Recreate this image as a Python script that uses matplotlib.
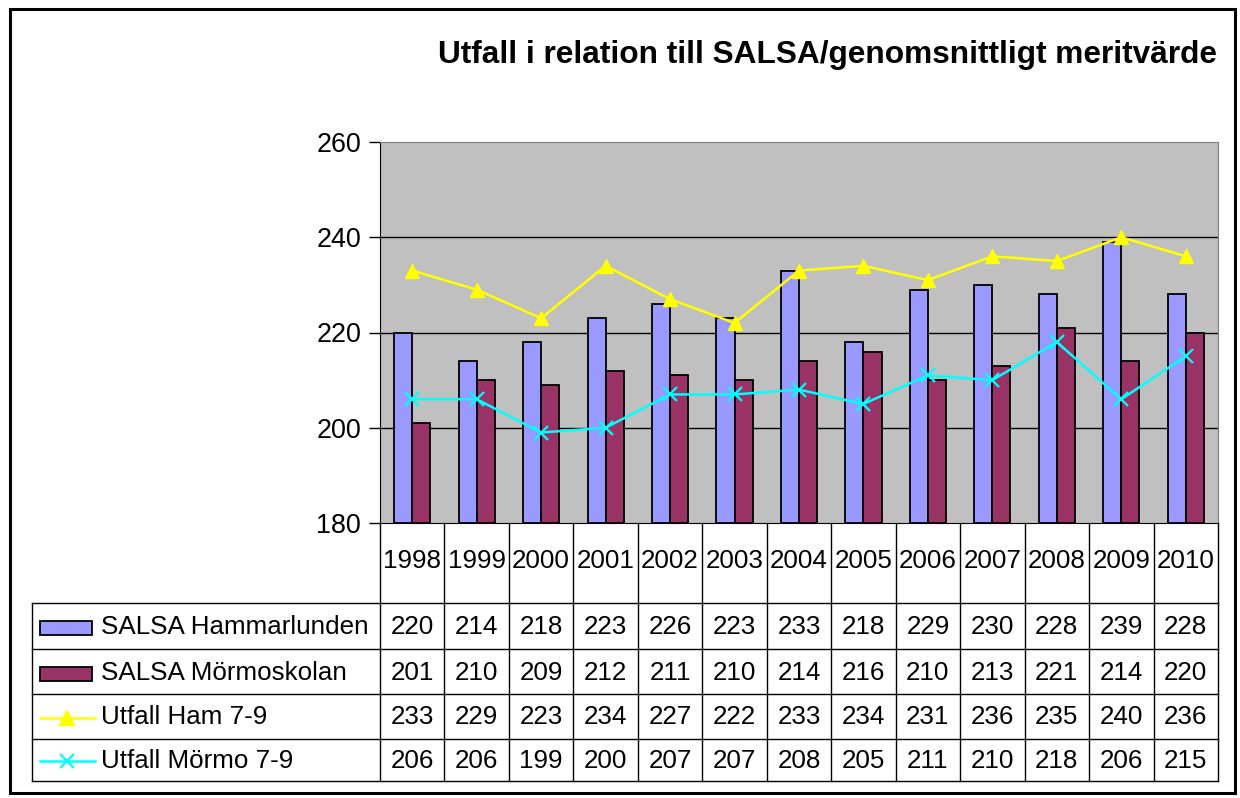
import numpy as np
import matplotlib
matplotlib.use("Agg")
import matplotlib.pyplot as plt
from matplotlib.lines import Line2D
from matplotlib.patches import Rectangle
from matplotlib.transforms import blended_transform_factory

plt.rcParams['font.family'] = ['Liberation Sans', 'DejaVu Sans']

years = ['1998', '1999', '2000', '2001', '2002', '2003', '2004',
         '2005', '2006', '2007', '2008', '2009', '2010']
salsa_ham = [220, 214, 218, 223, 226, 223, 233, 218, 229, 230, 228, 239, 228]
salsa_mor = [201, 210, 209, 212, 211, 210, 214, 216, 210, 213, 221, 214, 220]
utfall_ham = [233, 229, 223, 234, 227, 222, 233, 234, 231, 236, 235, 240, 236]
utfall_mor = [206, 206, 199, 200, 207, 207, 208, 205, 211, 210, 218, 206, 215]

series_names = ['SALSA Hammarlunden', 'SALSA Mörmoskolan', 'Utfall Ham 7-9', 'Utfall Mörmo 7-9']

W, H = 1240, 798
fig = plt.figure(figsize=(W / 100, H / 100), dpi=100)


def fx(x):
    return x / W


def fy(y):
    return 1 - y / H


# plot area in pixels
L, R, T, B = 380, 1218, 142, 523
ax = fig.add_axes([fx(L), fy(B), fx(R - L), (B - T) / H])
ax.set_facecolor('#C0C0C0')

x = np.arange(len(years))
bw = 0.28
ax.bar(x - bw / 2, np.array(salsa_ham) - 180, bw, bottom=180, color='#9999FF',
       edgecolor='black', linewidth=1.3, zorder=3)
ax.bar(x + bw / 2, np.array(salsa_mor) - 180, bw, bottom=180, color='#993366',
       edgecolor='black', linewidth=1.3, zorder=3)
ax.plot(x, utfall_ham, color='#FFFF00', lw=1.8, marker='^', ms=10, zorder=4)
ax.plot(x, utfall_mor, color='#00FFFF', lw=1.8, marker='x', ms=10, mew=1.6, zorder=4)

ax.set_xlim(-0.5, len(years) - 0.5)
ax.set_ylim(180, 260)
ax.set_yticks([180, 200, 220, 240, 260])
ax.tick_params(axis='y', direction='out', length=8, width=1, pad=5.5, labelsize=19.4)
ax.set_xticks([])
for yv in [200, 220, 240]:
    ax.axhline(yv, color='black', lw=1, zorder=2)
ax.spines['top'].set_color('#808080')
ax.spines['right'].set_color('#808080')
ax.spines['left'].set_color('black')
ax.spines['bottom'].set_color('black')

# data table below the plot
tr = blended_transform_factory(ax.transData, fig.transFigure)
rows = [523, 603, 649, 694, 739, 781]
table_fs = 18.7

# vertical separators
for i in range(len(years) + 1):
    fig.add_artist(Line2D([i - 0.5, i - 0.5], [fy(rows[0]), fy(rows[-1])],
                          transform=tr, color='black', lw=1))
# horizontal lines
for yy in rows[1:]:
    fig.add_artist(Line2D([fx(32), fx(R)], [fy(yy), fy(yy)], color='black', lw=1))
fig.add_artist(Line2D([fx(32), fx(32)], [fy(rows[1]), fy(rows[-1])], color='black', lw=1))

for i, yr in enumerate(years):
    fig.text(i, fy(561), yr, transform=tr, ha='center', va='center', fontsize=table_fs)

table_data = [salsa_ham, salsa_mor, utfall_ham, utfall_mor]
for r, vals in enumerate(table_data):
    yc = (rows[r + 1] + rows[r + 2]) / 2 + 1
    for i, v in enumerate(vals):
        fig.text(i, fy(yc), str(v), transform=tr, ha='center', va='center', fontsize=table_fs)
    fig.text(fx(101), fy(yc), series_names[r], ha='left', va='center', fontsize=table_fs)

# legend keys
bar_colors = ['#9999FF', '#993366']
for r in range(2):
    yc = (rows[r + 1] + rows[r + 2]) / 2 + 2
    fig.add_artist(Rectangle((fx(40), fy(yc + 7)), fx(52), 14 / H, facecolor=bar_colors[r],
                             edgecolor='black', lw=1.3))
line_styles = [('#FFFF00', '^'), ('#00FFFF', 'x')]
for k, (c, m) in enumerate(line_styles):
    r = k + 2
    yc = (rows[r + 1] + rows[r + 2]) / 2 + 1
    fig.add_artist(Line2D([fx(40), fx(95)], [fy(yc), fy(yc)], color=c, lw=1.8))
    fig.add_artist(Line2D([fx(67)], [fy(yc)], color=c, marker=m, ms=10, mew=1.6))

fig.text(fx(828), fy(55), 'Utfall i relation till SALSA/genomsnittligt meritvärde',
         ha='center', va='center', fontsize=22.8, fontweight='bold')

# chart border
fig.add_artist(Rectangle((fx(10), fy(793)), fx(1225), (793 - 9) / H, fill=False,
                         edgecolor='black', lw=2.2))

fig.savefig('out.png', dpi=100)
